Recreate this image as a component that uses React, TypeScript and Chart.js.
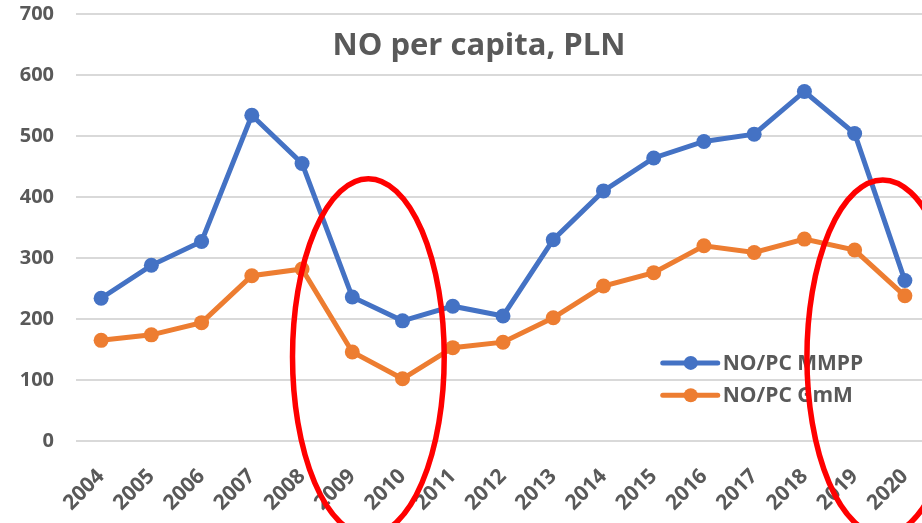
import React, { useEffect, useRef } from "react";
import { Chart, registerables } from "chart.js";

Chart.register(...registerables);

const years = ["2004", "2005", "2006", "2007", "2008", "2009", "2010", "2011", "2012", "2013", "2014", "2015", "2016", "2017", "2018", "2019", "2020"];
const mmpp = [234, 288, 327, 534, 455, 236, 197, 221, 205, 330, 410, 464, 491, 503, 573, 504, 263];
const gmm = [165, 174, 194, 271, 282, 146, 102, 153, 162, 202, 254, 276, 320, 309, 331, 313, 238];
const seriesNames = ["NO/PC MMPP", "NO/PC GmM"];
const titleText = "NO per capita, PLN";
const yMin = 0;
const yMax = 700;
const yStep = 100;

const BLUE = "#4472C4";
const ORANGE = "#ED7D31";
const GRAY = "#595959";
const FONT = "'Open Sans', 'Noto Sans', sans-serif";

// annotation ellipses: [centre index, half-width in categories, top value, bottom value]
const ellipses = [
  [5.32, 1.51, 430, -154],
  [15.56, 1.51, 428, -154],
];

const overlay = {
  id: "overlay",
  beforeDatasetsDraw(chart: any) {
    const ctx = chart.ctx;
    ctx.save();
    ctx.font = `bold 31px ${FONT}`;
    ctx.fillStyle = GRAY;
    ctx.textAlign = "center";
    ctx.textBaseline = "alphabetic";
    ctx.fillText(titleText, 479, 55);
    ctx.restore();
  },
  afterDatasetsDraw(chart: any) {
    const ctx = chart.ctx;
    const xs = chart.scales.x;
    const ys = chart.scales.y;
    const colors = [BLUE, ORANGE];
    const lx0 = xs.getPixelForValue(11.18);
    const rows = [128, 75];
    ctx.save();
    rows.forEach((v, i) => {
      const y = ys.getPixelForValue(v);
      ctx.strokeStyle = colors[i];
      ctx.lineWidth = 5;
      ctx.lineCap = "round";
      ctx.beginPath();
      ctx.moveTo(lx0, y);
      ctx.lineTo(lx0 + 55, y);
      ctx.stroke();
      ctx.fillStyle = colors[i];
      ctx.beginPath();
      ctx.arc(lx0 + 28, y, 7, 0, Math.PI * 2);
      ctx.fill();
      ctx.font = `bold 21px ${FONT}`;
      ctx.fillStyle = GRAY;
      ctx.textAlign = "left";
      ctx.textBaseline = "middle";
      ctx.fillText(seriesNames[i], lx0 + 60, y + 1);
    });
    ctx.strokeStyle = "#FF0000";
    ctx.lineWidth = 5.5;
    ellipses.forEach(([ci, hw, top, bottom]) => {
      const cx = xs.getPixelForValue(ci);
      const rx = xs.getPixelForValue(ci + hw) - cx;
      const yt = ys.getPixelForValue(top);
      const yb = ys.getPixelForValue(bottom);
      ctx.beginPath();
      ctx.ellipse(cx, (yt + yb) / 2, rx, (yb - yt) / 2, 0, 0, Math.PI * 2);
      ctx.stroke();
    });
    ctx.restore();
  },
};

export default function App() {
  const ref = useRef<HTMLCanvasElement>(null);
  useEffect(() => {
    if (!ref.current) return;
    const chart = new Chart(ref.current, {
      type: "line",
      data: {
        labels: years,
        datasets: [
          {
            label: seriesNames[0],
            data: mmpp,
            borderColor: BLUE,
            backgroundColor: BLUE,
            borderWidth: 5,
            pointRadius: 7.5,
            pointBorderWidth: 0,
            pointBackgroundColor: BLUE,
            tension: 0,
          },
          {
            label: seriesNames[1],
            data: gmm,
            borderColor: ORANGE,
            backgroundColor: ORANGE,
            borderWidth: 5,
            pointRadius: 7.5,
            pointBorderWidth: 0,
            pointBackgroundColor: ORANGE,
            tension: 0,
          },
        ],
      },
      options: {
        animation: false,
        responsive: true,
        maintainAspectRatio: false,
        layout: { autoPadding: false, padding: { top: 14, right: 0, left: 0, bottom: 0 } },
        plugins: {
          legend: { display: false },
          title: { display: false },
          tooltip: { enabled: false },
        },
        scales: {
          x: {
            offset: true,
            grid: { display: false },
            border: { display: false },
            afterFit: (s: any) => {
              s.height = 82;
              s.paddingRight = 0;
              s.paddingLeft = 0;
            },
            ticks: {
              autoSkip: false,
              maxRotation: 45,
              minRotation: 45,
              color: GRAY,
              padding: 15,
              font: { family: FONT, size: 21, weight: "bold" },
            },
          },
          y: {
            min: yMin,
            max: yMax,
            grid: { color: "#D9D9D9", lineWidth: 2, drawTicks: false },
            border: { display: false },
            afterFit: (s: any) => {
              s.width = 76;
              s.paddingTop = 0;
            },
            ticks: {
              stepSize: yStep,
              color: GRAY,
              padding: 22,
              font: { family: FONT, size: 20, weight: "bold" },
            },
          },
        },
      },
      plugins: [overlay],
    });
    return () => chart.destroy();
  }, []);
  return (
    <div style={{ position: "fixed", left: 0, top: 0, width: 922, height: 523, overflow: "hidden", background: "#fff" }}>
      <div style={{ position: "absolute", left: 0, top: 0, width: 930, height: 523 }}>
        <canvas ref={ref} />
      </div>
    </div>
  );
}
